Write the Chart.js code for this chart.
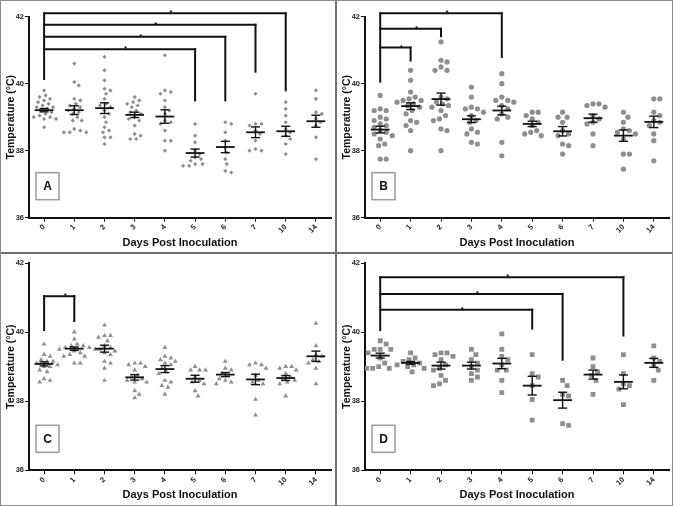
<!DOCTYPE html>
<html>
<head>
<meta charset="utf-8">
<script src="https://cdn.jsdelivr.net/npm/chart.js@4.4.1/dist/chart.umd.min.js"></script>
<style>
  body { margin: 0; background: #fff; }
  #wrap { position: relative; width: 673px; height: 506px; overflow: hidden; background: #fff; }
  canvas { position: absolute; }
  .rule { position: absolute; background: #707070; }
  #frame { position: absolute; left: 0; top: 0; width: 673px; height: 506px; box-sizing: border-box; border: 1px solid #8a8a8a; }
</style>
</head>
<body>
<div id="wrap">
  <canvas id="cA" width="335" height="252" style="left:0;top:0"></canvas>
  <canvas id="cB" width="336" height="252" style="left:337px;top:0"></canvas>
  <canvas id="cC" width="335" height="252" style="left:0;top:254px"></canvas>
  <canvas id="cD" width="336" height="252" style="left:337px;top:254px"></canvas>
  <div class="rule" style="left:335px;top:0;width:2px;height:506px"></div>
  <div class="rule" style="left:0;top:252px;width:673px;height:2px"></div>
  <div id="frame"></div>
</div>
<script>
const days = ["0", "1", "2", "3", "4", "5", "6", "7", "10", "14"];

// body temperatures, one list per day
const tempsA = [
  [39.8, 39.65, 39.6, 39.55, 39.5, 39.45, 39.4, 39.35, 39.3, 39.3, 39.25, 39.2, 39.15, 39.1, 39.05, 39.0, 39.0, 38.95, 38.95, 38.7],
  [40.6, 40.05, 39.95, 39.55, 39.5, 39.4, 39.35, 39.3, 39.25, 39.2, 39.15, 39.1, 39.0, 38.9, 38.9, 38.65, 38.6, 38.55, 38.55, 38.55],
  [40.8, 40.4, 40.1, 39.85, 39.8, 39.7, 39.55, 39.4, 39.35, 39.3, 39.2, 39.1, 39.0, 38.85, 38.7, 38.6, 38.55, 38.4, 38.4, 38.2],
  [39.6, 39.5, 39.45, 39.4, 39.35, 39.3, 39.2, 39.15, 39.1, 39.0, 38.95, 38.9, 38.75, 38.5, 38.45, 38.35, 38.35],
  [40.85, 39.8, 39.75, 39.7, 39.5, 39.3, 39.2, 39.1, 38.9, 38.85, 38.8, 38.6, 38.3, 38.3, 38.0],
  [38.8, 38.45, 38.25, 38.0, 37.9, 37.8, 37.75, 37.7, 37.6, 37.6, 37.55, 37.55],
  [38.85, 38.8, 38.55, 38.3, 38.1, 37.95, 37.75, 37.6, 37.4, 37.35],
  [39.7, 38.8, 38.8, 38.75, 38.6, 38.5, 38.3, 38.05, 38.0, 38.0],
  [39.45, 39.25, 39.05, 38.85, 38.65, 38.55, 38.45, 38.35, 38.2, 37.9],
  [39.8, 39.55, 39.15, 39.1, 38.95, 38.85, 38.75, 38.4, 37.75]
];
const meanA = [39.21, 39.21, 39.27, 39.07, 39.02, 37.93, 38.11, 38.55, 38.58, 38.88];
const semA = [0.05, 0.13, 0.16, 0.08, 0.2, 0.12, 0.17, 0.16, 0.15, 0.18];

const tempsB = [
  [39.65, 39.25, 39.2, 39.2, 39.0, 38.95, 38.9, 38.8, 38.75, 38.7, 38.6, 38.55, 38.5, 38.45, 38.35, 38.2, 38.15, 37.75, 37.75],
  [40.4, 40.1, 39.75, 39.6, 39.55, 39.5, 39.5, 39.45, 39.4, 39.35, 39.3, 39.2, 39.1, 38.9, 38.85, 38.75, 38.6, 38.0],
  [41.25, 40.7, 40.65, 40.5, 40.4, 40.4, 39.6, 39.55, 39.45, 39.4, 39.35, 39.3, 39.2, 39.05, 38.95, 38.9, 38.65, 38.6, 38.0],
  [39.9, 39.6, 39.3, 39.25, 39.25, 39.15, 39.05, 38.9, 38.85, 38.65, 38.55, 38.5, 38.25, 38.2],
  [40.3, 40.0, 39.6, 39.5, 39.5, 39.45, 39.35, 39.25, 39.1, 39.0, 38.95, 38.25, 37.85],
  [39.15, 39.15, 39.05, 38.95, 38.85, 38.75, 38.6, 38.55, 38.5, 38.45],
  [39.15, 39.0, 39.0, 38.85, 38.6, 38.5, 38.45, 38.2, 38.15, 37.9],
  [39.4, 39.4, 39.35, 39.3, 39.05, 38.95, 38.85, 38.8, 38.5, 38.15],
  [39.15, 39.0, 38.85, 38.65, 38.6, 38.55, 38.5, 38.35, 37.9, 37.9, 37.45],
  [39.55, 39.55, 39.15, 39.05, 38.9, 38.85, 38.75, 38.5, 38.3, 37.7]
];
const meanB = [38.63, 39.33, 39.54, 38.94, 39.2, 38.8, 38.58, 38.97, 38.45, 38.86];
const semB = [0.1, 0.1, 0.18, 0.1, 0.13, 0.08, 0.14, 0.12, 0.17, 0.17];

const tempsC = [
  [39.65, 39.35, 39.3, 39.2, 39.15, 39.15, 39.1, 39.05, 39.0, 39.0, 38.9, 38.85, 38.65, 38.6, 38.55],
  [40.0, 39.8, 39.65, 39.6, 39.6, 39.55, 39.55, 39.5, 39.5, 39.45, 39.4, 39.35, 39.3, 39.3, 39.1, 39.1],
  [40.2, 39.9, 39.9, 39.85, 39.75, 39.6, 39.55, 39.5, 39.45, 39.4, 39.35, 39.15, 39.1, 38.95, 38.6],
  [39.1, 39.1, 39.05, 39.0, 38.9, 38.75, 38.7, 38.65, 38.6, 38.55, 38.55, 38.3, 38.2, 38.1],
  [39.55, 39.3, 39.25, 39.2, 39.15, 39.1, 39.05, 38.95, 38.85, 38.8, 38.6, 38.55, 38.45, 38.4, 38.2],
  [39.0, 38.9, 38.9, 38.9, 38.7, 38.6, 38.55, 38.5, 38.3, 38.15],
  [39.15, 38.95, 38.9, 38.8, 38.75, 38.65, 38.6, 38.55, 38.5],
  [39.1, 39.05, 39.05, 38.95, 38.75, 38.6, 38.55, 38.5, 38.05, 37.6],
  [39.0, 39.0, 38.95, 38.9, 38.8, 38.7, 38.65, 38.6, 38.55, 38.5, 38.15],
  [40.25, 39.6, 39.35, 39.3, 39.2, 39.15, 39.1, 38.95, 38.5]
];
const meanC = [39.08, 39.52, 39.52, 38.69, 38.93, 38.65, 38.77, 38.63, 38.67, 39.3];
const semC = [0.06, 0.05, 0.1, 0.08, 0.1, 0.1, 0.06, 0.15, 0.07, 0.15];

const tempsD = [
  [39.75, 39.65, 39.5, 39.5, 39.5, 39.4, 39.25, 39.1, 39.0, 38.95, 38.95, 38.95],
  [39.4, 39.25, 39.2, 39.15, 39.1, 39.05, 39.05, 39.0, 38.95, 38.85],
  [39.4, 39.4, 39.35, 39.3, 39.2, 39.05, 38.95, 38.9, 38.75, 38.6, 38.5, 38.45],
  [39.5, 39.35, 39.2, 39.1, 39.0, 38.9, 38.8, 38.7, 38.6],
  [39.95, 39.5, 39.3, 39.2, 39.05, 38.9, 38.9, 38.6, 38.25],
  [39.35, 38.8, 38.7, 38.45, 38.05, 37.45],
  [38.6, 38.45, 38.2, 38.15, 37.35, 37.3],
  [39.25, 39.0, 38.85, 38.75, 38.6, 38.2],
  [39.35, 38.8, 38.5, 38.45, 38.35, 37.9],
  [39.6, 39.25, 39.15, 39.05, 38.9, 38.6]
];
const meanD = [39.32, 39.11, 39.03, 39.03, 39.09, 38.45, 38.03, 38.77, 38.56, 39.11];
const semD = [0.07, 0.04, 0.1, 0.1, 0.15, 0.27, 0.23, 0.13, 0.2, 0.13];

// significance brackets: from day 0 to day index `to`, bar height, right leg end
const bracketsA = [{ to: 8, y: 42.1, end: 39.8 }, { to: 7, y: 41.76, end: 40.36 }, { to: 6, y: 41.4, end: 39.5 }, { to: 5, y: 41.03, end: 39.5 }];
const bracketsB = [{ to: 4, y: 42.1, end: 40.8 }, { to: 2, y: 41.64, end: 41.42 }, { to: 1, y: 41.08, end: 40.69 }];
const bracketsC = [{ to: 1, y: 41.04, end: 40.32 }];
const bracketsD = [{ to: 8, y: 41.59, end: 39.9 }, { to: 6, y: 41.1, end: 39.2 }, { to: 5, y: 40.65, end: 40.1 }];
const leftLegEnd = { A: 40.14, B: 40.06, C: 40.06, D: 40.06 };

const FONT = "'Liberation Sans', Arial, sans-serif";
const PX_PER_DEG = 34;
const PX_PER_CAT = 30.3;

// simple beeswarm so points with close values sit side by side
function swarm(values, i, gap) {
  const placed = [];
  return values.slice().sort((a, b) => b - a).map(v => {
    const py = v * PX_PER_DEG;
    let dx = 0;
    for (let n = 0; n < 60; n++) {
      dx = (n % 2 ? 1 : -1) * Math.ceil(n / 2) * 1.5;
      if (!placed.some(p => Math.hypot(p.x - dx, p.y - py) < gap)) break;
    }
    placed.push({ x: dx, y: py });
    return { x: i + dx / PX_PER_CAT, y: v };
  });
}

const panelPlugin = {
  id: "panel",
  afterDatasetsDraw(chart, args, opts) {
    const { ctx, chartArea, scales: { x, y } } = chart;
    const line = (x1, y1, x2, y2) => { ctx.beginPath(); ctx.moveTo(x1, y1); ctx.lineTo(x2, y2); ctx.stroke(); };
    ctx.save();
    ctx.strokeStyle = "#111";

    // mean and SEM
    opts.means.forEach((m, i) => {
      const cx = x.getPixelForValue(i);
      const half = x.getPixelForValue(i + 0.31) - cx;
      const cap = x.getPixelForValue(i + 0.15) - cx;
      const yM = y.getPixelForValue(m);
      const yT = y.getPixelForValue(m + opts.sem[i]);
      const yB = y.getPixelForValue(m - opts.sem[i]);
      ctx.lineWidth = 1.8;
      line(cx - half, yM, cx + half, yM);
      ctx.lineWidth = 1.4;
      line(cx, yT, cx, yB);
      line(cx - cap, yT, cx + cap, yT);
      line(cx - cap, yB, cx + cap, yB);
    });

    // brackets
    const x0 = x.getPixelForValue(0);
    const topY = Math.max(...opts.brackets.map(b => b.y));
    ctx.lineWidth = 2;
    ctx.lineCap = "square";
    line(x0, y.getPixelForValue(topY), x0, y.getPixelForValue(opts.leftEnd));
    ctx.fillStyle = "#111";
    ctx.font = "bold 8px " + FONT;
    ctx.textAlign = "center";
    opts.brackets.forEach(b => {
      const xk = x.getPixelForValue(b.to);
      const yb = y.getPixelForValue(b.y);
      line(x0, yb, xk, yb);
      line(xk, yb, xk, y.getPixelForValue(b.end));
      ctx.fillText("*", (x0 + xk) / 2 + 6, yb + 2);
    });

    // panel letter box
    const bx = chartArea.left + 7, by = chartArea.bottom - 45;
    ctx.lineWidth = 1.5;
    ctx.strokeStyle = "#9a9a9a";
    ctx.lineCap = "butt";
    ctx.strokeRect(bx, by, 23, 27);
    ctx.font = "bold 12px " + FONT;
    ctx.textBaseline = "middle";
    ctx.fillText(opts.letter, bx + 11.5, by + 14);
    ctx.restore();
  }
};

function makePanel(id, cfg) {
  const points = cfg.temps.flatMap((vals, i) => swarm(vals, i, cfg.gap));
  new Chart(document.getElementById(id), {
    type: "scatter",
    data: {
      datasets: [{
        data: points,
        pointStyle: cfg.style,
        pointRadius: cfg.radius,
        backgroundColor: "#8e8e8e",
        borderColor: "#8e8e8e",
        borderWidth: 0
      }]
    },
    options: {
      responsive: false,
      animation: false,
      devicePixelRatio: 1,
      layout: { padding: { top: cfg.top, right: cfg.right, left: 0, bottom: 0 } },
      plugins: {
        legend: { display: false },
        tooltip: { enabled: false },
        panel: { means: cfg.means, sem: cfg.sem, brackets: cfg.brackets, leftEnd: cfg.leftEnd, letter: cfg.letter }
      },
      scales: {
        x: {
          type: "linear",
          min: -0.5,
          max: 9.5,
          afterBuildTicks: s => { s.ticks = days.map((d, i) => ({ value: i })); },
          afterFit: s => { s.height = cfg.xHeight; },
          grid: { drawOnChartArea: false, tickLength: 4, tickColor: "#111", tickWidth: 1 },
          border: { color: "#111", width: 2 },
          ticks: {
            callback: v => days[v],
            autoSkip: false,
            minRotation: 45,
            maxRotation: 45,
            padding: 1,
            color: "#222",
            font: { family: FONT, size: 7.5, weight: "bold" }
          },
          title: {
            display: true,
            text: "Days Post Inoculation",
            color: "#111",
            font: { family: FONT, size: 11, weight: "bold", lineHeight: 1.2 },
            padding: { top: 0, bottom: cfg.titlePad }
          }
        },
        y: {
          min: 36,
          max: 42,
          afterFit: s => { s.width = cfg.yWidth; },
          grid: { drawOnChartArea: false, tickLength: 4, tickColor: "#111", tickWidth: 1 },
          border: { color: "#111", width: 2 },
          ticks: {
            stepSize: 2,
            padding: 1,
            color: "#222",
            font: { family: FONT, size: 7.5, weight: "bold" }
          },
          title: {
            display: true,
            text: "Temperature (°C)",
            color: "#111",
            font: { family: FONT, size: 10.5, weight: "bold", lineHeight: 1.2 },
            padding: { top: cfg.yTitlePad, bottom: 0 }
          }
        }
      }
    },
    plugins: [panelPlugin]
  });
}

makePanel("cA", { temps: tempsA, means: meanA, sem: semA, brackets: bracketsA, leftEnd: leftLegEnd.A, letter: "A",
  style: "rectRot", radius: 2.1, gap: 5.2, top: 16.7, right: 3, xHeight: 34.3, titlePad: 2.4, yWidth: 29, yTitlePad: 5 });
makePanel("cB", { temps: tempsB, means: meanB, sem: semB, brackets: bracketsB, leftEnd: leftLegEnd.B, letter: "B",
  style: "circle", radius: 2.6, gap: 6, top: 16.7, right: 4, xHeight: 34.3, titlePad: 2.4, yWidth: 28, yTitlePad: 4 });
makePanel("cC", { temps: tempsC, means: meanC, sem: semC, brackets: bracketsC, leftEnd: leftLegEnd.C, letter: "C",
  style: "triangle", radius: 2.8, gap: 5.5, top: 9, right: 3, xHeight: 35.7, titlePad: 4.4, yWidth: 29, yTitlePad: 5 });
makePanel("cD", { temps: tempsD, means: meanD, sem: semD, brackets: bracketsD, leftEnd: leftLegEnd.D, letter: "D",
  style: "rect", radius: 3.4, gap: 6, top: 9, right: 4, xHeight: 35.7, titlePad: 4.4, yWidth: 28, yTitlePad: 4 });
</script>
</body>
</html>
